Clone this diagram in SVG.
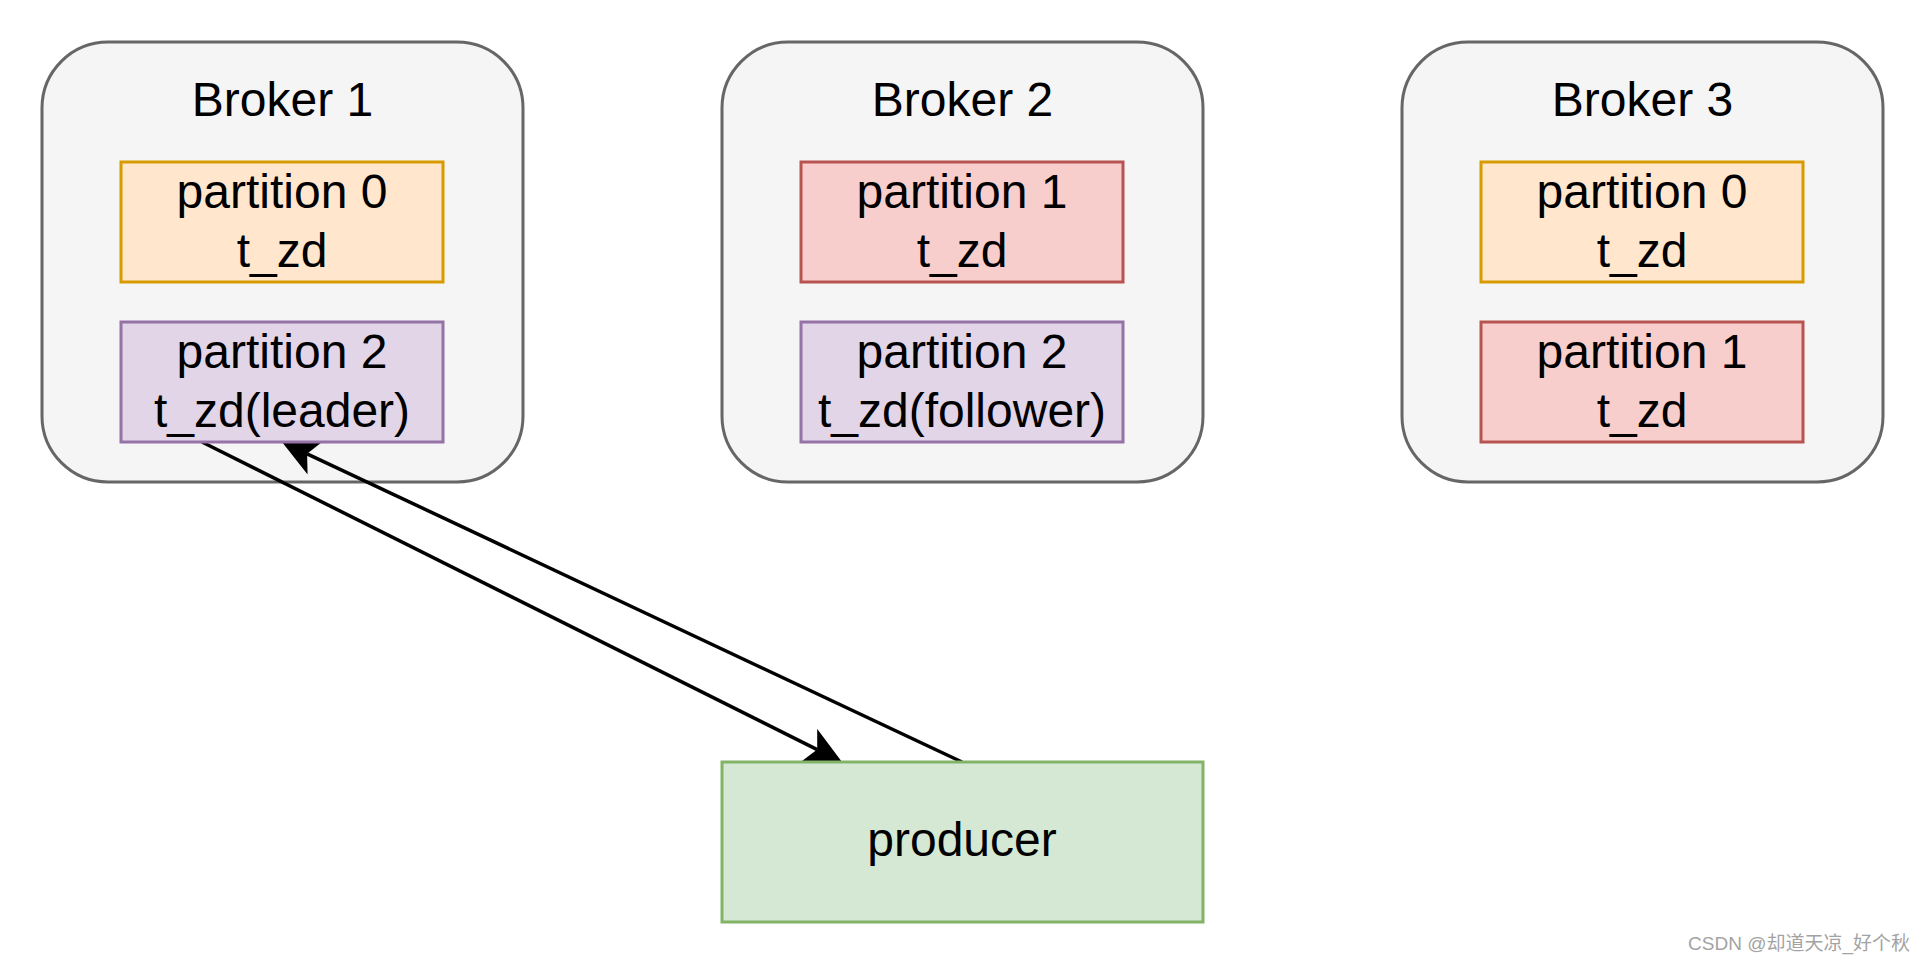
<svg xmlns="http://www.w3.org/2000/svg" width="1924" height="964" viewBox="0 0 1924 964">
  <defs>
    <style>
      .broker { fill: #f5f5f5; stroke: #666666; stroke-width: 3; }
      .p0 { fill: #ffe6cc; stroke: #d79b00; stroke-width: 3; }
      .p1 { fill: #f8cecc; stroke: #b85450; stroke-width: 3; }
      .p2 { fill: #e1d5e7; stroke: #9673a6; stroke-width: 3; }
      .prod { fill: #d5e8d4; stroke: #82b366; stroke-width: 3; }
      .lbl { font-family: "Liberation Sans", Arial, Helvetica, sans-serif; font-size: 48px; fill: #000000; text-anchor: middle; }
      .edge { fill: none; stroke: #000000; stroke-width: 3.5; marker-end: url(#arrow); }
      .wm { font-family: "Liberation Sans", "Noto Sans CJK SC", sans-serif; font-size: 19px; fill: #a3a3a3; text-anchor: end; }
    </style>
    <marker id="arrow" markerUnits="userSpaceOnUse" markerWidth="37" markerHeight="37" viewBox="0 0 37 37" refX="9.25" refY="18.5" orient="auto">
      <path d="M37,18.5 L0,0 L9.25,18.5 L0,37 Z" fill="#000000"/>
    </marker>
  </defs>
  <rect width="1924" height="964" fill="#ffffff"/>

  <g id="broker1">
    <rect class="broker" x="42" y="42" width="481" height="440" rx="66" ry="66"/>
    <text class="lbl" x="282.5" y="116">Broker 1</text>
  </g>
  <g id="broker2">
    <rect class="broker" x="722" y="42" width="481" height="440" rx="66" ry="66"/>
    <text class="lbl" x="962.5" y="116">Broker 2</text>
  </g>
  <g id="broker3">
    <rect class="broker" x="1402" y="42" width="481" height="440" rx="66" ry="66"/>
    <text class="lbl" x="1642.5" y="116">Broker 3</text>
  </g>

  <g id="connectors">
    <path class="edge" d="M202,442 L817.2,749.6"/>
    <path class="edge" d="M962,762 L307.1,453.8"/>
  </g>

  <g id="b1-partition0">
    <rect class="p0" x="121" y="162" width="322" height="120"/>
    <text class="lbl" x="282" y="208">partition 0</text>
    <text class="lbl" x="282" y="267">t_zd</text>
  </g>
  <g id="b1-partition2">
    <rect class="p2" x="121" y="322" width="322" height="120"/>
    <text class="lbl" x="282" y="368">partition 2</text>
    <text class="lbl" x="282" y="427">t_zd(leader)</text>
  </g>
  <g id="b2-partition1">
    <rect class="p1" x="801" y="162" width="322" height="120"/>
    <text class="lbl" x="962" y="208">partition 1</text>
    <text class="lbl" x="962" y="267">t_zd</text>
  </g>
  <g id="b2-partition2">
    <rect class="p2" x="801" y="322" width="322" height="120"/>
    <text class="lbl" x="962" y="368">partition 2</text>
    <text class="lbl" x="962" y="427">t_zd(follower)</text>
  </g>
  <g id="b3-partition0">
    <rect class="p0" x="1481" y="162" width="322" height="120"/>
    <text class="lbl" x="1642" y="208">partition 0</text>
    <text class="lbl" x="1642" y="267">t_zd</text>
  </g>
  <g id="b3-partition1">
    <rect class="p1" x="1481" y="322" width="322" height="120"/>
    <text class="lbl" x="1642" y="368">partition 1</text>
    <text class="lbl" x="1642" y="427">t_zd</text>
  </g>

  <g id="producer">
    <rect class="prod" x="722" y="762" width="481" height="160"/>
    <text class="lbl" x="962" y="856">producer</text>
  </g>

  <text class="wm" x="1910" y="950">CSDN @却道天凉_好个秋</text>
</svg>
